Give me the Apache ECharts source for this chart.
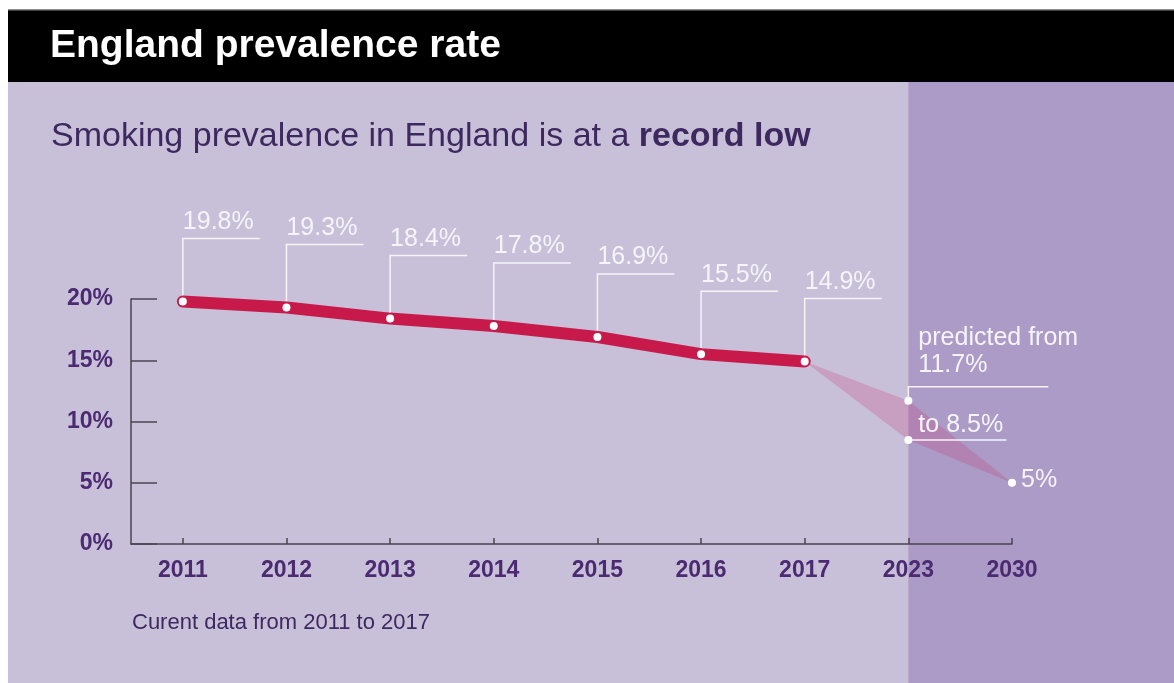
<!DOCTYPE html>
<html>
<head>
<meta charset="utf-8">
<style>
  html, body { margin: 0; padding: 0; background: #ffffff; }
  #chart { width: 1174px; height: 683px; }
</style>
<script src="https://cdn.jsdelivr.net/npm/echarts@6/dist/echarts.min.js"></script>
</head>
<body>
<div id="chart"></div>
<script>
// ---- data ----
const years = ['2011', '2012', '2013', '2014', '2015', '2016', '2017', '2023', '2030'];
const actualValues = [19.8, 19.3, 18.4, 17.8, 16.9, 15.5, 14.9];
const predictedYearIdx = [6, 7, 8];          // 2017, 2023, 2030
const predictedUpper = [14.9, 11.7, 5.0];
const predictedLower = [14.9, 8.5, 5.0];
const yTickValues = [0, 5, 10, 15, 20];
const predictedLabels = ['predicted from\n11.7%', 'to 8.5%', '5%'];

const FONT = '"Liberation Sans", Arial, Helvetica, sans-serif';
const PURPLE = '#4b2a72';
const DARK_PURPLE = '#3d2860';
const LIGHT_BG = '#c8c0d8';
const DARK_BG = '#ab9bc6';
const RED = '#c71a4b';
const LABEL_WHITE = '#f6f4fa';

const xIdx = years.map((_, i) => i);
const actualData = actualValues.map((v, i) => [i, v]);
const predPoints = [
  [predictedYearIdx[1], predictedUpper[1], 0],
  [predictedYearIdx[1], predictedLower[1], 1],
  [predictedYearIdx[2], predictedUpper[2], 2]
];
const polygonData = [
  [predictedYearIdx[0], predictedUpper[0]],
  [predictedYearIdx[1], predictedUpper[1]],
  [predictedYearIdx[2], predictedUpper[2]],
  [predictedYearIdx[1], predictedLower[1]]
];

const chart = echarts.init(document.getElementById('chart'), null, { renderer: 'canvas' });

const option = {
  backgroundColor: '#ffffff',
  animation: false,
  grid: { left: 131, right: 162, top: 299, bottom: 139, containLabel: false },
  xAxis: {
    type: 'value',
    min: -0.5,
    max: 8,
    splitLine: { show: false },
    axisLine: { show: true, onZero: false, lineStyle: { color: '#4a4650', width: 1.5 } },
    axisTick: { show: true, inside: true, length: 6, customValues: xIdx, lineStyle: { color: '#4a4650', width: 1.5 } },
    axisLabel: {
      customValues: xIdx,
      formatter: v => years[Math.round(v)] || '',
      color: PURPLE, fontFamily: FONT, fontWeight: 'bold', fontSize: 23, margin: 15
    }
  },
  yAxis: {
    type: 'value',
    min: 0, max: 20, interval: 5,
    splitLine: { show: false },
    axisLine: { show: true, onZero: false, lineStyle: { color: '#4a4650', width: 1.5 } },
    axisTick: { show: true, inside: true, length: 26, lineStyle: { color: '#4a4650', width: 1.5 } },
    axisLabel: {
      formatter: '{value}%',
      color: PURPLE, fontFamily: FONT, fontWeight: 'bold', fontSize: 23, margin: 18
    }
  },
  series: [
    {
      type: 'custom',
      name: 'prediction band',
      z: 1,
      data: [0],
      renderItem: function (params, api) {
        const pts = polygonData.map(d => api.coord(d));
        return {
          type: 'polygon',
          shape: { points: pts },
          style: { fill: 'rgba(200, 40, 110, 0.22)' }
        };
      }
    },
    {
      type: 'custom',
      name: 'leaders',
      z: 1,
      data: actualData,
      renderItem: function (params, api) {
        const v = api.value(1);
        const p = api.coord([api.value(0), v]);
        const ly = p[1] - 63;
        return {
          type: 'group',
          children: [
            { type: 'polyline', shape: { points: [[p[0], p[1]], [p[0], ly], [p[0] + 77, ly]] },
              style: { stroke: LABEL_WHITE, lineWidth: 1.5, fill: null } },
            { type: 'text', x: p[0], y: ly - 3,
              style: { text: v.toFixed(1) + '%', fill: LABEL_WHITE, font: '25px ' + FONT,
                       align: 'left', verticalAlign: 'bottom', lineHeight: 27 } }
          ]
        };
      }
    },
    {
      type: 'line',
      name: 'actual',
      z: 3,
      data: actualData,
      showSymbol: true,
      symbol: 'circle',
      symbolSize: 8,
      itemStyle: { color: '#ffffff', borderWidth: 0 },
      lineStyle: { color: RED, width: 12, cap: 'round', join: 'round' }
    },
    {
      type: 'custom',
      name: 'prediction labels',
      z: 4,
      data: predPoints,
      renderItem: function (params, api) {
        const kind = api.value(2);
        const p = api.coord([api.value(0), api.value(1)]);
        const text = predictedLabels[kind];
        const children = [];
        if (kind === 0) {
          const ly = p[1] - 14;
          children.push({ type: 'polyline', shape: { points: [[p[0], p[1]], [p[0], ly], [p[0] + 140, ly]] },
            style: { stroke: LABEL_WHITE, lineWidth: 1.5, fill: null } });
          children.push({ type: 'text', x: p[0] + 10, y: ly - 8,
            style: { text: text, fill: LABEL_WHITE, font: '25px ' + FONT, align: 'left', verticalAlign: 'bottom', lineHeight: 27 } });
        } else if (kind === 1) {
          children.push({ type: 'polyline', shape: { points: [[p[0], p[1]], [p[0] + 98, p[1]]] },
            style: { stroke: LABEL_WHITE, lineWidth: 1.5, fill: null } });
          children.push({ type: 'text', x: p[0] + 10, y: p[1] - 1,
            style: { text: text, fill: LABEL_WHITE, font: '25px ' + FONT, align: 'left', verticalAlign: 'bottom', lineHeight: 27 } });
        } else {
          children.push({ type: 'text', x: p[0] + 9, y: p[1] - 3,
            style: { text: text, fill: LABEL_WHITE, font: '25px ' + FONT, align: 'left', verticalAlign: 'middle', lineHeight: 27 } });
        }
        children.push({ type: 'circle', shape: { cx: p[0], cy: p[1], r: 4 }, style: { fill: '#ffffff' } });
        return { type: 'group', children: children };
      }
    }
  ]
};

chart.setOption(option);

const x2023 = chart.convertToPixel({ gridIndex: 0 }, [predictedYearIdx[1], 0])[0];
const W = 1174, H = 683;

chart.setOption({
  graphic: [
    { type: 'rect', z: -20, silent: true, shape: { x: 8, y: 82, width: W - 8, height: H - 82 }, style: { fill: LIGHT_BG } },
    { type: 'rect', z: -19, silent: true, shape: { x: x2023, y: 82, width: W - x2023, height: H - 82 }, style: { fill: DARK_BG } },
    { type: 'rect', z: -18, silent: true, shape: { x: 8, y: 9, width: W - 8, height: 73 }, style: { fill: '#000000' } },
    { type: 'rect', z: -17, silent: true, shape: { x: 8, y: 9, width: W - 8, height: 1.5 }, style: { fill: '#8a8a8a' } },
    { type: 'text', z: 10, silent: true, x: 50, y: 46,
      style: { text: 'England prevalence rate', fill: '#ffffff', font: 'bold 39px ' + FONT, verticalAlign: 'middle', align: 'left' } },
    { type: 'text', z: 10, silent: true, x: 51, y: 137,
      style: {
        text: '{n|Smoking prevalence in England is at a }{b|record low}',
        verticalAlign: 'middle', align: 'left',
        rich: {
          n: { fill: DARK_PURPLE, font: '34px ' + FONT },
          b: { fill: DARK_PURPLE, font: 'bold 34px ' + FONT }
        }
      } },
    { type: 'text', z: 10, silent: true, x: 132, y: 623,
      style: { text: 'Curent data from 2011 to 2017', fill: DARK_PURPLE, font: '22px ' + FONT, verticalAlign: 'middle', align: 'left' } }
  ]
});
</script>
</body>
</html>
